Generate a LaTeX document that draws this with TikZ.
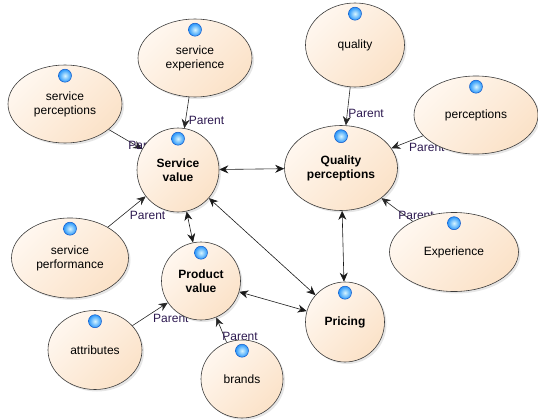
\documentclass[tikz,border=0pt]{standalone}
\usepackage{fontspec}
\setmainfont{Liberation Sans}
\usetikzlibrary{shapes.geometric,arrows.meta,shadows,backgrounds}

\definecolor{nodeborder}{RGB}{60,60,60}
\definecolor{nodelight}{RGB}{255,247,239}
\definecolor{nodedark}{RGB}{251,226,200}
\definecolor{dotlight}{RGB}{215,245,255}
\definecolor{dotblue}{RGB}{40,150,250}
\definecolor{dotrim}{RGB}{20,90,200}
\definecolor{labelpurple}{RGB}{45,25,80}

\begin{document}
\begin{tikzpicture}[x=1pt,y=-1pt,
  every node/.style={font=\fontsize{12}{14}\selectfont},
  concept/.style={ellipse,draw=nodeborder,line width=0.6pt,inner sep=0pt,align=center,
    top color=nodelight,bottom color=nodedark,shading angle=45,
    drop shadow={shadow xshift=2pt,shadow yshift=-2pt,opacity=0.2}},
  main/.style={concept,font=\fontsize{12}{14}\selectfont\bfseries},
  parent/.style={draw=black!85,line width=0.6pt,-{Stealth[length=9pt,width=8pt]}},
  both/.style={draw=black!90,line width=0.6pt,{Stealth[length=9pt,width=8pt]}-{Stealth[length=9pt,width=8pt]}},
  plabel/.style={text=labelpurple,inner sep=1pt},
  blob/.style={inner color=dotlight,outer color=dotblue,draw=dotrim,line width=0.5pt}]

\useasboundingbox (0,0) rectangle (538,420);

% concepts:
\node[main,minimum width=82,minimum height=84] (sv) at (178,170) {Service\\value};
\node[concept,minimum width=114,minimum height=78] (se) at (195,58) {service\\experience};
\node[concept,minimum width=114,minimum height=78] (sp) at (65,104) {service\\perceptions};
\node[concept,minimum width=117,minimum height=80] (sperf) at (70,258) {service\\performance};
\node[concept,minimum width=99,minimum height=84] (qual) at (355,45) {quality};
\node[concept,minimum width=124,minimum height=78] (perc) at (476,115) {perceptions};
\node[main,minimum width=113,minimum height=85] (qp) at (341,168) {Quality\\perceptions};
\node[concept,minimum width=129,minimum height=79] (exp) at (454,252) {Experience};
\node[main,minimum width=79,minimum height=78] (pv) at (201,281) {Product\\value};
\node[concept,minimum width=94,minimum height=79] (attr) at (95,350) {attributes};
\node[concept,minimum width=82,minimum height=78] (brands) at (242,379) {brands};
\node[main,minimum width=79,minimum height=80] (pr) at (345,322) {Pricing};

\foreach \n in {sv,se,sp,sperf,qual,perc,qp,exp,pv,attr,brands,pr}
  \shade[blob] ([yshift=-11pt]\n.north) circle (6.5pt);

% links:
\begin{scope}[on background layer]
\draw[parent] (se) -- (sv) node[plabel,pos=0.75,anchor=west,xshift=2pt] {Parent};
\draw[parent] (sp) -- (sv) node[plabel,pos=0.55,anchor=north west] {Parent};
\draw[parent] (sperf) -- (sv) node[plabel,pos=0.55,anchor=north west] {Parent};
\draw[parent] (qual) -- (qp) node[plabel,pos=0.7,anchor=west] {Parent};
\draw[parent] (perc) -- (qp) node[plabel,pos=0.48,anchor=north west] {Parent};
\draw[parent] (exp) -- (qp) node[plabel,pos=0.5,anchor=north west] {Parent};
\draw[parent] (attr) -- (pv) node[plabel,pos=0.55,anchor=north west] {Parent};
\draw[parent] (brands) -- (pv) node[plabel,pos=0.25,anchor=west,xshift=-3pt] {Parent};
\draw[both] (sv) -- (qp);
\draw[both] (sv) -- (pv);
\draw[both] (sv) -- (pr);
\draw[both] (pv) -- (pr);
\draw[both] (qp) -- (pr);
\end{scope}

\end{tikzpicture}
\end{document}
